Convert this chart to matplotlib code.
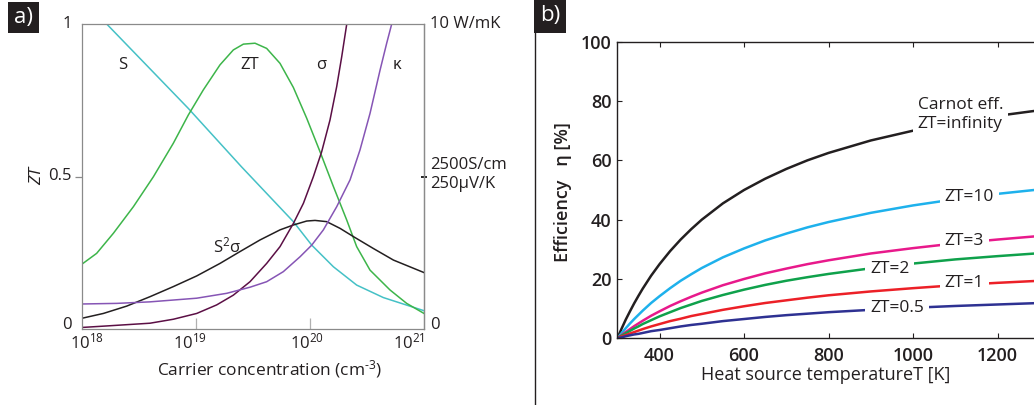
import numpy as np
import matplotlib
matplotlib.use("Agg")
import matplotlib.pyplot as plt
from matplotlib.patches import Rectangle
from matplotlib.lines import Line2D

# ---------------- data: panel a (log10 carrier concentration, normalised value) ----------------
s_logn = [18.15, 18.219, 18.935, 19.40, 19.855, 20.016, 20.206, 20.410, 20.644, 21.0]
s_val = [1.03, 1.0, 0.723, 0.532, 0.352, 0.275, 0.204, 0.144, 0.103, 0.060]

zt_logn = [18.000, 18.131, 18.278, 18.453, 18.628, 18.803, 18.935, 19.066, 19.212, 19.329,
           19.417, 19.519, 19.621, 19.738, 19.855, 19.972, 20.089, 20.206, 20.323, 20.410,
           20.527, 20.702, 20.848, 21.000]
zt_val = [0.212, 0.248, 0.314, 0.401, 0.499, 0.609, 0.702, 0.784, 0.866, 0.915,
          0.934, 0.937, 0.920, 0.871, 0.792, 0.691, 0.581, 0.467, 0.357, 0.270,
          0.193, 0.128, 0.084, 0.051]

pf_logn = [18.000, 18.190, 18.394, 18.599, 18.803, 19.008, 19.212, 19.388, 19.563, 19.738,
           19.855, 19.972, 20.045, 20.147, 20.264, 20.381, 20.556, 20.732, 21.000]
pf_val = [0.035, 0.051, 0.075, 0.106, 0.139, 0.174, 0.215, 0.254, 0.292, 0.325,
          0.341, 0.354, 0.356, 0.352, 0.330, 0.303, 0.264, 0.226, 0.185]

sig_logn = [18.000, 18.219, 18.599, 18.803, 19.008, 19.183, 19.329, 19.475, 19.621, 19.738,
            19.855, 19.943, 20.030, 20.103, 20.176, 20.235, 20.279, 20.323, 20.34]
sig_val = [0.005, 0.010, 0.019, 0.032, 0.051, 0.079, 0.111, 0.155, 0.215, 0.270,
           0.346, 0.412, 0.499, 0.581, 0.685, 0.795, 0.893, 1.000, 1.04]

kap_logn = [18.000, 18.307, 18.599, 19.008, 19.271, 19.475, 19.621, 19.767, 19.914, 20.016,
            20.118, 20.235, 20.352, 20.439, 20.527, 20.615, 20.673, 20.717, 20.73]
kap_val = [0.082, 0.084, 0.089, 0.101, 0.117, 0.137, 0.155, 0.188, 0.237, 0.275,
           0.325, 0.401, 0.489, 0.587, 0.707, 0.849, 0.937, 1.000, 1.02]

a_xtick_labels = ["$10^{18}$", "$10^{19}$", "$10^{20}$", "$10^{21}$"]

# ---------------- data: panel b (heat source temperature K, efficiency %) ----------------
T_hot = [300, 310, 320, 330, 340, 350, 360, 380, 400, 425, 450, 475, 500, 550, 600, 650,
         700, 750, 800, 900, 1000, 1100, 1200, 1300]
eff_carnot = [0, 3.2, 6.3, 9.1, 11.8, 14.3, 16.7, 21.1, 25.0, 29.4, 33.3, 36.8, 40.0, 45.5,
              50.0, 53.8, 57.1, 60.0, 62.5, 66.7, 70.0, 72.7, 75.0, 76.9]
eff_zt10 = [0, 1.7, 3.4, 5.0, 6.5, 7.9, 9.3, 11.9, 14.2, 16.9, 19.4, 21.6, 23.7, 27.3,
            30.3, 33.0, 35.3, 37.4, 39.2, 42.3, 44.8, 46.9, 48.7, 50.2]
eff_zt3 = [0, 1.1, 2.1, 3.1, 4.1, 5.0, 5.9, 7.6, 9.1, 10.9, 12.5, 14.0, 15.4, 17.9,
           20.0, 21.9, 23.5, 25.0, 26.3, 28.6, 30.4, 32.0, 33.3, 34.5]
eff_zt2 = [0, 0.9, 1.7, 2.5, 3.3, 4.0, 4.8, 6.1, 7.4, 8.8, 10.2, 11.4, 12.6, 14.6,
           16.4, 18.0, 19.4, 20.6, 21.7, 23.6, 25.2, 26.6, 27.7, 28.7]
eff_zt1 = [0, 0.6, 1.1, 1.6, 2.1, 2.6, 3.1, 4.0, 4.8, 5.8, 6.6, 7.5, 8.2, 9.6,
           10.8, 11.9, 12.8, 13.7, 14.5, 15.8, 16.9, 17.9, 18.7, 19.4]
eff_zt05 = [0, 0.3, 0.7, 1.0, 1.3, 1.5, 1.8, 2.4, 2.8, 3.4, 4.0, 4.5, 4.9, 5.8,
            6.5, 7.2, 7.8, 8.3, 8.8, 9.6, 10.3, 10.9, 11.4, 11.9]

b_labels = ["Carnot eff.\nZT=infinity", "ZT=10", "ZT=3", "ZT=2", "ZT=1", "ZT=0.5"]
b_series = [eff_carnot, eff_zt10, eff_zt3, eff_zt2, eff_zt1, eff_zt05]
b_colors = ["#231f20", "#1eb1ec", "#e8198b", "#0fa14b", "#ec2027", "#2e3192"]
b_label_pos = [(1011, 75.3), (1075, 47.6), (1075, 32.8), (898, 23.4), (1075, 18.6), (898, 10.2)]
b_xticks = [400, 600, 800, 1000, 1200]
b_yticks = [0, 20, 40, 60, 80, 100]

# ---------------- style ----------------
FONT = ["Open Sans", "DejaVu Sans"]
plt.rcParams["font.family"] = FONT
plt.rcParams["mathtext.fontset"] = "custom"
plt.rcParams["mathtext.rm"] = "Open Sans"
plt.rcParams["mathtext.it"] = "Open Sans:italic"
plt.rcParams["mathtext.bf"] = "Open Sans:bold"
TXT = "#231f20"
GRAY = "#8a8a8a"

W, H = 1034, 405
fig = plt.figure(figsize=(W / 100, H / 100), dpi=100)


def fx(px):
    return px / W


def fy(py):
    return 1 - py / H


# ================= panel a =================
axA = fig.add_axes([fx(81.7), fy(329), (424 - 81.7) / W, (329 - 24) / H])
axA.set_xscale("log")
axA.set_xlim(1e18, 1e21)
axA.set_ylim(0, 1)
for sp in axA.spines.values():
    sp.set_color(GRAY)
    sp.set_linewidth(0.9)

lw_a = 1.1
axA.plot(10 ** np.array(s_logn), s_val, color="#45c1c6", lw=lw_a)
axA.plot(10 ** np.array(zt_logn), zt_val, color="#3db54a", lw=lw_a)
axA.plot(10 ** np.array(pf_logn), pf_val, color="#231f20", lw=lw_a)
axA.plot(10 ** np.array(sig_logn), sig_val, color="#5b0f45", lw=lw_a)
axA.plot(10 ** np.array(kap_logn), kap_val, color="#8655b5", lw=lw_a)

axA.set_xticks([1e19, 1e20])
axA.set_xticklabels([])
axA.xaxis.set_minor_locator(matplotlib.ticker.NullLocator())
axA.tick_params(axis="x", direction="in", length=8, color="#b0b0b0", width=0.9)
axA.set_yticks([0.5])
axA.set_yticklabels([])
axA.tick_params(axis="y", direction="out", length=5, color=GRAY, width=0.9)

sec = axA.secondary_yaxis("right")
sec.set_yticks([0.5])
sec.set_yticklabels([])
sec.tick_params(direction="inout", length=5, color="black", width=1.2)
sec.spines["right"].set_color(GRAY)
sec.spines["right"].set_linewidth(0.9)

fs_a = 12
for lab, xa in zip(a_xtick_labels, [0.0155, 0.316, 0.658, 0.956]):
    axA.text(xa, -0.043, lab, transform=axA.transAxes, ha="center", va="center",
             fontsize=fs_a, color=TXT)
for lab, ya in zip(["1", "0.5", "0"], [1.0, 0.5, 0.013]):
    axA.text(-0.03, ya, lab, transform=axA.transAxes, ha="right", va="center",
             fontsize=fs_a, color=TXT)
for lab, ya in zip(["10 W/mK", "2500S/cm", "250\u03bcV/K", "0"], [1.0, 0.538, 0.475, 0.013]):
    axA.text(1.0175, ya, lab, transform=axA.transAxes, ha="left", va="center",
             fontsize=fs_a, color=TXT)

curve_labels = [("S", 10 ** 18.356, 0.866), ("ZT", 10 ** 19.47, 0.866),
                ("\u03c3", 10 ** 20.103, 0.866), ("\u03ba", 10 ** 20.767, 0.866),
                ("S$^{2}$\u03c3", 10 ** 19.277, 0.272)]
for lab, xv, yv in curve_labels:
    axA.text(xv, yv, lab, ha="center", va="center", fontsize=fs_a, color=TXT)

fig.text(fx(37), fy(176), "ZT", rotation=90, ha="center", va="center",
         fontsize=12.5, style="italic", color=TXT)
fig.text(fx(270), fy(369), "Carrier concentration (cm$^{\\text{-}3}$)", ha="center", va="center",
         fontsize=12.5, color=TXT)

# ================= panel b =================
px_per_K = 0.4225
xmax = 1400
axB = fig.add_axes([fx(617.3), fy(338.3), (xmax - 300) * px_per_K / W, (338.3 - 41.7) / H])
axB.set_xlim(300, xmax)
axB.set_ylim(0, 100)
for sp in axB.spines.values():
    sp.set_color("#231f20")
    sp.set_linewidth(1.0)
axB.spines["right"].set_visible(False)

for ys, col in zip(b_series, b_colors):
    axB.plot(T_hot, ys, color=col, lw=1.8, solid_capstyle="butt", solid_joinstyle="round",
             zorder=2)
for lab, (xv, yv) in zip(b_labels, b_label_pos):
    axB.text(xv, yv, lab, ha="left", va="center", fontsize=12.5, color=TXT,
             linespacing=1.25, zorder=3,
             bbox=dict(facecolor="white", edgecolor="none", pad=3.5))

axB.set_xticks(b_xticks)
axB.set_yticks(b_yticks)
axB.tick_params(axis="both", direction="in", length=3.8, width=0.8, color="#231f20",
                labelsize=13, labelcolor=TXT)
axB.tick_params(axis="x", top=True, pad=6)
axB.tick_params(axis="y", pad=4)
for t in axB.get_xticklabels() + axB.get_yticklabels():
    t.set_fontweight("semibold")

fig.text(fx(826), fy(375), "Heat source temperatureT [K]", ha="center", va="center",
         fontsize=13, color=TXT)
fig.text(fx(563), fy(192), "Efficiency   \u03b7 [%]", rotation=90, ha="center", va="center",
         fontsize=13, fontweight="semibold", color=TXT)

# ================= panel letters and divider =================
fig.add_artist(Rectangle((fx(8), fy(33)), (39 - 8) / W, 31 / H, transform=fig.transFigure,
                         facecolor="#231f20", edgecolor="none"))
fig.text(fx(23.5), fy(17), "a)", color="white", ha="center", va="center", fontsize=16)
fig.add_artist(Rectangle((fx(534), fy(33)), (566 - 534) / W, 33 / H, transform=fig.transFigure,
                         facecolor="#231f20", edgecolor="none"))
fig.text(fx(550), fy(16), "b)", color="white", ha="center", va="center", fontsize=16)
fig.add_artist(Line2D([fx(534.5), fx(534.5)], [fy(33), 0], transform=fig.transFigure,
                      color="#231f20", lw=1.0))

fig.savefig("out.png", dpi=100)
